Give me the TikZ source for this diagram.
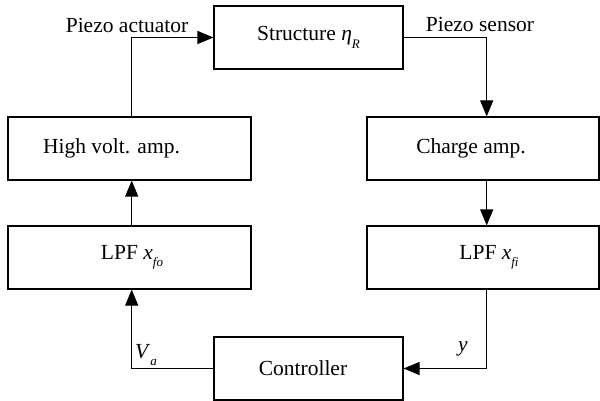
\documentclass[tikz,border=0pt]{standalone}
\usepackage{fontspec}
\setmainfont{Liberation Serif}
\usetikzlibrary{arrows.meta}
\newcommand{\lowsub}[1]{\raisebox{-0.35em}{\fontsize{13}{13}\selectfont\itshape #1}}
% move a block's caption sideways without changing the block
\newcommand{\nudge}[2]{\hspace*{#1}#2\hspace*{-#1}}
\begin{document}
\begin{tikzpicture}[x=1pt,y=-1pt,
  blk/.style={draw,line width=1.1pt,minimum width=#1,minimum height=63pt,inner sep=0pt,
    font=\fontsize{21.5}{26}\selectfont},
  blk/.default=243pt,
  conn/.style={line width=1.1pt,-{Triangle[length=16pt,width=13pt]}},
  lbl/.style={font=\fontsize{21.5}{26}\selectfont,inner sep=0pt}]
\useasboundingbox (0,0) rectangle (600,401);
% blocks (pixel-based coordinates, y downwards)
\node[blk=189pt] (st) at (308.5,37.5) {Structure \textit{η}\lowsub{R}};
\node[blk] (hv) at (129.5,148.5) {\nudge{-18pt}{High volt. amp.}};
\node[blk] (lo) at (129.5,257.5) {\nudge{2.5pt}{LPF \textit{x}\lowsub{fo}}};
\node[blk=232pt] (ca) at (483,148.5) {\nudge{-12pt}{Charge amp.}};
\node[blk=232pt] (li) at (483,257.5) {\nudge{6pt}{LPF \textit{x}\lowsub{fi}}};
\node[blk=189pt] (co) at (308.5,368.5) {\nudge{-5.5pt}{Controller}};
% corner points of the loop
\coordinate (a1) at (131.7,37.5);
\coordinate (s1) at (486.7,37.5);
\coordinate (y1) at (486.7,368.5);
\coordinate (v1) at (131.7,368.5);
% connectors
\draw[conn] (hv.north -| a1) -- (a1) -- (st.west);
\draw[conn] (st.east) -- (s1) -- (ca.north -| s1);
\draw[conn] (ca.south -| s1) -- (li.north -| s1);
\draw[conn] (li.south -| s1) -- (y1) -- (co.east);
\draw[conn] (co.west) -- (v1) -- (lo.south -| v1);
\draw[conn] (lo.north -| a1) -- (hv.south -| a1);
% signal labels
\node[lbl] (pa) at (127,25) {Piezo actuator};
\node[lbl] (ps) at (480,24) {Piezo sensor};
\node[lbl] (va) at (146,355) {\textit{V}\lowsub{a}};
\node[lbl] (yy) at (463,349) {\textit{y}};
\end{tikzpicture}
\end{document}
